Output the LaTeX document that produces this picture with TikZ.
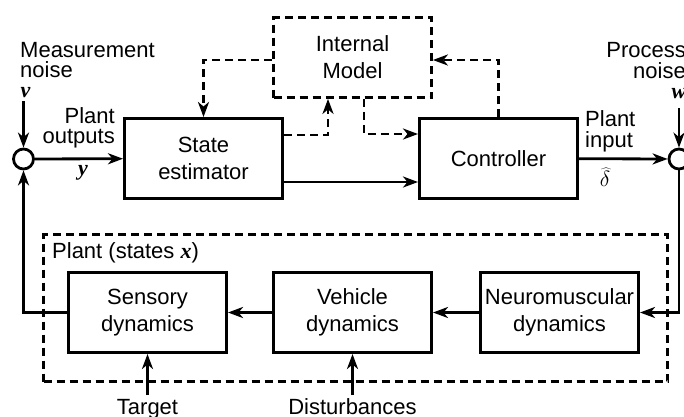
\RequirePackage{fix-cm}
\documentclass[tikz,border=0pt]{standalone}
\usepackage{fontspec}
\setmainfont{Liberation Sans}
\newfontfamily\serifvar{Liberation Serif}
\usetikzlibrary{arrows.meta,calc}
\newcommand\sig[1]{{\serifvar\bfseries\itshape #1}}
\begin{document}
\begin{tikzpicture}[x=1pt,y=-1pt,
  txt/.style={font=\fontsize{22}{27}\selectfont, inner sep=0pt},
  blockbox/.style={draw, line width=3pt, minimum width=158pt, minimum height=80pt,
    align=center, font=\fontsize{22}{27}\selectfont, inner sep=0pt},
  modelbox/.style={blockbox, line width=2.8pt, dash pattern=on 8pt off 5pt},
  plantbox/.style={draw, line width=2.8pt, dash pattern=on 8pt off 5pt,
    minimum width=624pt, minimum height=147pt, inner sep=0pt},
  sumnode/.style={draw, circle, line width=2.8pt, minimum size=20pt, inner sep=0pt},
  wire/.style={line width=2.8pt, -{Stealth[length=15pt,width=11pt,inset=4.5pt]}},
  dwire/.style={wire, dash pattern=on 8pt off 5pt}
]
\useasboundingbox (0,0) rectangle (684,416);

% blocks
\node[blockbox] (est) at (203.5,158.5) {State\\estimator};
\node[blockbox] (ctrl) at (498.5,158.5) {Controller};
\node[modelbox] (model) at (352.5,57.5) {Internal\\Model};
\node[plantbox] (plant) at (355.5,308) {};
\node[blockbox] (sens) at (147.5,312.5) {Sensory\\dynamics};
\node[blockbox] (veh) at (352.5,312.5) {Vehicle\\dynamics};
\node[blockbox] (neuro) at (559.5,312.5) {Neuromuscular\\dynamics};

% summing junctions
\node[sumnode] (sumL) at (23.5,159) {};
\node[sumnode] (sumR) at (679,159) {};

% free ends of the input arrows
\coordinate (vtop) at (23.5,101);
\coordinate (wtop) at (679,108);
\coordinate (tgt) at (147.5,395);
\coordinate (dst) at (352.5,395);
\coordinate (m2) at (328,0);
\coordinate (m3) at (364,0);

% labels
\node[txt, anchor=base west] (measA) at (20,57) {Measurement};
\node[txt, anchor=base west] (measB) at (20,77) {noise};
\node[txt, anchor=base] (vlab) at (25.5,97) {\sig{v}};
\node[txt, anchor=base east] (poA) at (115,123) {Plant};
\node[txt, anchor=base east] (poB) at (115,143) {outputs};
\node[txt, anchor=base] (ylab) at (83,175) {\sig{y}};
\node[txt, anchor=base west] (piA) at (585,126) {Plant};
\node[txt, anchor=base west] (piB) at (585,147) {input};
\node[txt, anchor=base] (dlab) at (605,186) {$\widehat{\delta}$};
\node[txt, anchor=base east] (pnA) at (686,57) {Process};
\node[txt, anchor=base east] (pnB) at (686,78) {noise};
\node[txt, anchor=base] (wlab) at (679,98) {\sig{w}};
\node[txt, anchor=base west] (plab) at (52,258) {Plant (states \sig{x})};
\node[txt, anchor=base] (tlab) at (147.5,414) {Target};
\node[txt, anchor=base] (dslab) at (352.5,414) {Disturbances};

% signal flow
\draw[wire] (sumL) -- (est);
\draw[wire] ($(est.east)+(0,23.5)$) -- ($(ctrl.west)+(0,23.5)$);
\draw[wire] (ctrl) -- (sumR);
\draw[wire] (sumR.south) |- (neuro.east);
\draw[wire] (neuro) -- (veh);
\draw[wire] (veh) -- (sens);
\draw[wire] (sens.west) -| (sumL.south);
\draw[wire] (vtop) -- (sumL.north);
\draw[wire] (wtop) -- (sumR.north);
\draw[wire] (tgt) -- (sens.south);
\draw[wire] (dst) -- (veh.south);

% internal model links
\draw[dwire] ($(model.west)+(0,2.5)$) -| (est.north);
\draw[dwire] ($(est.east)+(0,-23.5)$) -| (model.south -| m2);
\draw[dwire] (model.south -| m3) |- ($(ctrl.west)+(0,-24.5)$);
\draw[dwire] (ctrl.north) |- ($(model.east)+(0,2.5)$);
\end{tikzpicture}
\end{document}
